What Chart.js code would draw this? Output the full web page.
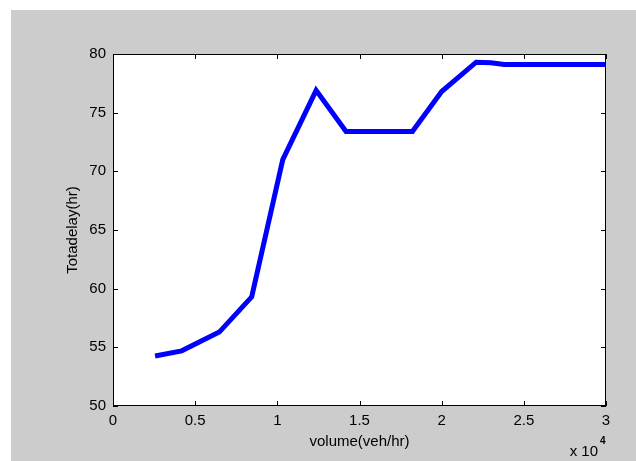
<!DOCTYPE html>
<html>
<head>
<meta charset="utf-8">
<script src="https://cdn.jsdelivr.net/npm/chart.js@4"></script>
<style>
body{margin:0;background:#fff;width:636px;height:461px;overflow:hidden}
#wrap{position:absolute;left:11px;top:10px;width:625px;height:451px;background:#cccccc}
</style>
</head>
<body>
<div id="wrap"><canvas id="c" width="625" height="451"></canvas></div>
<script>
// volume in units of 10^4 veh/hr
const volume = [0.256, 0.418, 0.647, 0.844, 1.033, 1.236, 1.418, 1.822, 2.0, 2.21, 2.30, 2.38, 3.0]
const delay  = [54.26, 54.7, 56.3, 59.3, 71.0, 76.9, 73.4, 73.4, 76.8, 79.3, 79.25, 79.1, 79.1]
const xTicks = [0, 0.5, 1, 1.5, 2, 2.5, 3]
const yTicks = [50, 55, 60, 65, 70, 75, 80]

const font = {family:"'Liberation Sans', Arial, sans-serif", size:15}

// white plot box, inward ticks on all sides, exponent label
const matlabBox = {
  id:'matlabBox',
  beforeDraw(chart){
    const a = chart.chartArea, ctx = chart.ctx
    ctx.save()
    ctx.fillStyle = '#fff'
    ctx.fillRect(a.left, a.top, a.right-a.left, a.bottom-a.top)
    ctx.restore()
  },
  afterDraw(chart){
    const a = chart.chartArea, ctx = chart.ctx
    const xs = chart.scales.x, ys = chart.scales.y
    ctx.save()
    ctx.strokeStyle = '#000'
    ctx.lineWidth = 1
    ctx.strokeRect(a.left+0.5, a.top+0.5, a.right-a.left-1, a.bottom-a.top-1)
    ctx.beginPath()
    xTicks.forEach(v=>{
      const px = Math.round(xs.getPixelForValue(v))+0.5
      ctx.moveTo(px, a.bottom); ctx.lineTo(px, a.bottom-5)
      ctx.moveTo(px, a.top); ctx.lineTo(px, a.top+5)
    })
    yTicks.forEach(v=>{
      const py = Math.round(ys.getPixelForValue(v))+0.5
      ctx.moveTo(a.left, py); ctx.lineTo(a.left+5, py)
      ctx.moveTo(a.right, py); ctx.lineTo(a.right-5, py)
    })
    ctx.stroke()
    ctx.fillStyle = '#000'
    ctx.font = "15px 'Liberation Sans', Arial, sans-serif"
    ctx.textAlign = 'right'
    ctx.textBaseline = 'alphabetic'
    ctx.fillText('x 10', 587, 446)
    ctx.font = "bold 10px 'Liberation Sans', Arial, sans-serif"
    ctx.textAlign = 'left'
    ctx.fillText('4', 589, 434)
    ctx.restore()
  }
}

new Chart(document.getElementById('c'), {
  type:'line',
  data:{
    datasets:[{
      data: volume.map((v,i)=>({x:v, y:delay[i]})),
      borderColor:'#0000ff',
      borderWidth:5,
      pointRadius:0,
      tension:0,
      fill:false
    }]
  },
  options:{
    responsive:false,
    animation:false,
    devicePixelRatio:1,
    layout:{padding:{top:44, right:30, left:0, bottom:0}},
    plugins:{legend:{display:false}, tooltip:{enabled:false}},
    scales:{
      x:{
        type:'linear', min:0, max:3,
        afterBuildTicks: s=>{ s.ticks = xTicks.map(v=>({value:v})) },
        afterFit: s=>{ s.height = 55 },
        grid:{display:false, drawTicks:false},
        border:{display:false},
        ticks:{color:'#000', font:font, padding:6, maxRotation:0, callback:v=>String(v)},
        title:{display:true, text:'volume(veh/hr)', color:'#000', font:font, padding:{top:0, bottom:10}}
      },
      y:{
        type:'linear', min:50, max:80,
        afterBuildTicks: s=>{ s.ticks = yTicks.map(v=>({value:v})) },
        afterFit: s=>{ s.width = 102 },
        grid:{display:false, drawTicks:false},
        border:{display:false},
        ticks:{color:'#000', font:font, padding:7, callback:v=>String(v)},
        title:{display:true, text:'Totadelay(hr)', color:'#000', font:font, padding:{top:53, bottom:0}}
      }
    }
  },
  plugins:[matlabBox]
})
</script>
</body>
</html>
